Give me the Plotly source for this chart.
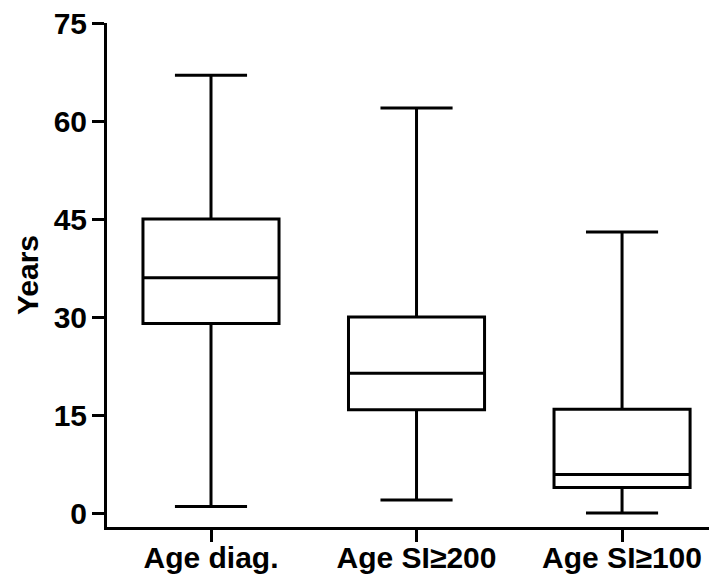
import plotly.graph_objects as go

categories = ["Age diag.", "Age SI≥200", "Age SI≥100"]
minimum = [1, 2, 0]
q1 = [29, 15.8, 3.9]
median = [36, 21.4, 5.9]
q3 = [45, 30, 15.9]
maximum = [67, 62, 43]
y_ticks = [0, 15, 30, 45, 60, 75]

FONT = "Liberation Sans, Arial, sans-serif"

fig = go.Figure()
fig.add_trace(go.Box(
    x=categories,
    q1=q1, median=median, q3=q3,
    lowerfence=minimum, upperfence=maximum,
    width=0.662,
    whiskerwidth=0.53,
    fillcolor="white",
    line=dict(color="black", width=3),
    boxpoints=False,
    showlegend=False,
    hoverinfo="skip",
))

# the page body has an 8px default margin, so the figure is sized/offset to compensate
fig.update_layout(
    width=709, height=567,
    margin=dict(l=99, r=0, t=15, b=48),
    paper_bgcolor="white", plot_bgcolor="white",
    font=dict(family=FONT, size=29, color="black"),
    xaxis=dict(
        type="category",
        range=[-0.506, 2.462],
        automargin=False,
        showline=True, linecolor="black", linewidth=3,
        ticks="outside", ticklen=12, tickwidth=3, tickcolor="black",
        showgrid=False, zeroline=False,
        ticklabelstandoff=-10,
        ticklabeloverflow="allow",
        tickfont=dict(family=FONT, size=30, color="black", weight="bold"),
    ),
    yaxis=dict(
        range=[-2.14, 75],
        tickvals=y_ticks,
        automargin=False,
        showline=True, linecolor="black", linewidth=3,
        ticks="outside", ticklen=12, tickwidth=3, tickcolor="black",
        showgrid=False, zeroline=False,
        ticklabelstandoff=-1,
        ticklabeloverflow="allow",
        tickfont=dict(family=FONT, size=30, color="black", weight="bold"),
        title=dict(text="Years", font=dict(family=FONT, size=30, color="black", weight="bold"), standoff=7),
    ),
)

fig.write_html("out.html")
